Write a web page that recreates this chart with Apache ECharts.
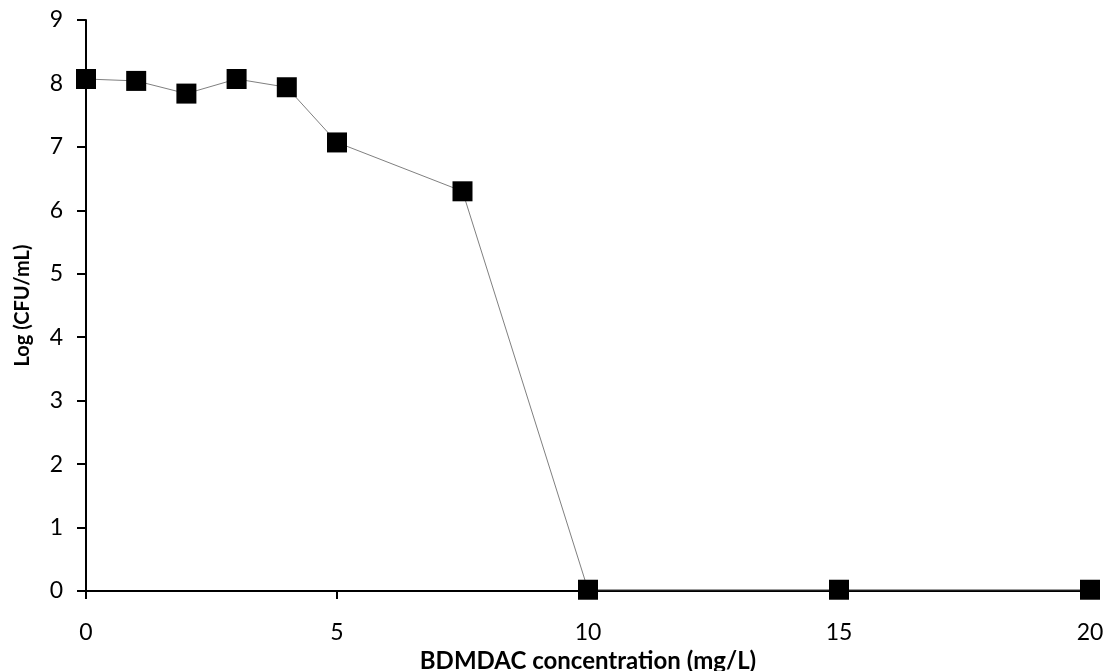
<!DOCTYPE html>
<html>
<head>
<meta charset="utf-8">
<script src="https://cdn.jsdelivr.net/npm/echarts@6/dist/echarts.min.js"></script>
<style>
  html, body { margin: 0; padding: 0; background: #fff; }
  #chart { width: 1110px; height: 671px; }
</style>
</head>
<body>
<div id="chart"></div>
<script>
// BDMDAC concentration (mg/L) and surviving count, Log (CFU/mL)
const concentrations = [0, 1, 2, 3, 4, 5, 7.5, 10, 15, 20];
const logCfu = [8.07, 8.04, 7.84, 8.07, 7.94, 7.07, 6.30, 0.02, 0.02, 0.02];
const xTicks = [0, 5, 10, 15, 20];
const yTicks = [0, 1, 2, 3, 4, 5, 6, 7, 8, 9];

const fontFamily = 'Lato, "Open Sans", sans-serif';
const chart = echarts.init(document.getElementById('chart'));

chart.setOption({
  animation: false,
  backgroundColor: '#ffffff',
  grid: {
    left: 86, right: 20, top: 20, bottom: 80,
    containLabel: false,
    outerBoundsMode: 'none'
  },
  xAxis: {
    type: 'value',
    min: xTicks[0],
    max: xTicks[xTicks.length - 1],
    interval: 5,
    name: 'BDMDAC concentration (mg/L)',
    nameLocation: 'middle',
    nameGap: 56,
    nameTextStyle: { fontFamily, fontWeight: 'bold', fontSize: 24, color: '#000' },
    axisLine: { show: true, onZero: false, lineStyle: { color: '#000', width: 2 } },
    axisTick: { show: true, inside: false, length: 8, lineStyle: { color: '#000', width: 2 } },
    axisLabel: { fontFamily, fontSize: 23, color: '#000', margin: 30 },
    splitLine: { show: false }
  },
  yAxis: {
    type: 'value',
    min: yTicks[0],
    max: yTicks[yTicks.length - 1],
    interval: 1,
    name: 'Log (CFU/mL)',
    nameLocation: 'middle',
    nameGap: 53,
    nameTextStyle: { fontFamily, fontWeight: 'bold', fontSize: 20, color: '#000' },
    axisLine: { show: true, lineStyle: { color: '#000', width: 2 } },
    axisTick: { show: true, inside: false, length: 9, lineStyle: { color: '#000', width: 2 } },
    axisLabel: { fontFamily, fontSize: 23, color: '#000', margin: 23 },
    splitLine: { show: false }
  },
  series: [{
    type: 'line',
    data: concentrations.map((c, i) => [c, logCfu[i]]),
    symbol: 'rect',
    symbolSize: 20,
    clip: false,
    lineStyle: { color: '#808080', width: 1 },
    itemStyle: { color: '#000', borderColor: '#000', borderWidth: 0 },
    z: 3
  }]
});
</script>
</body>
</html>
